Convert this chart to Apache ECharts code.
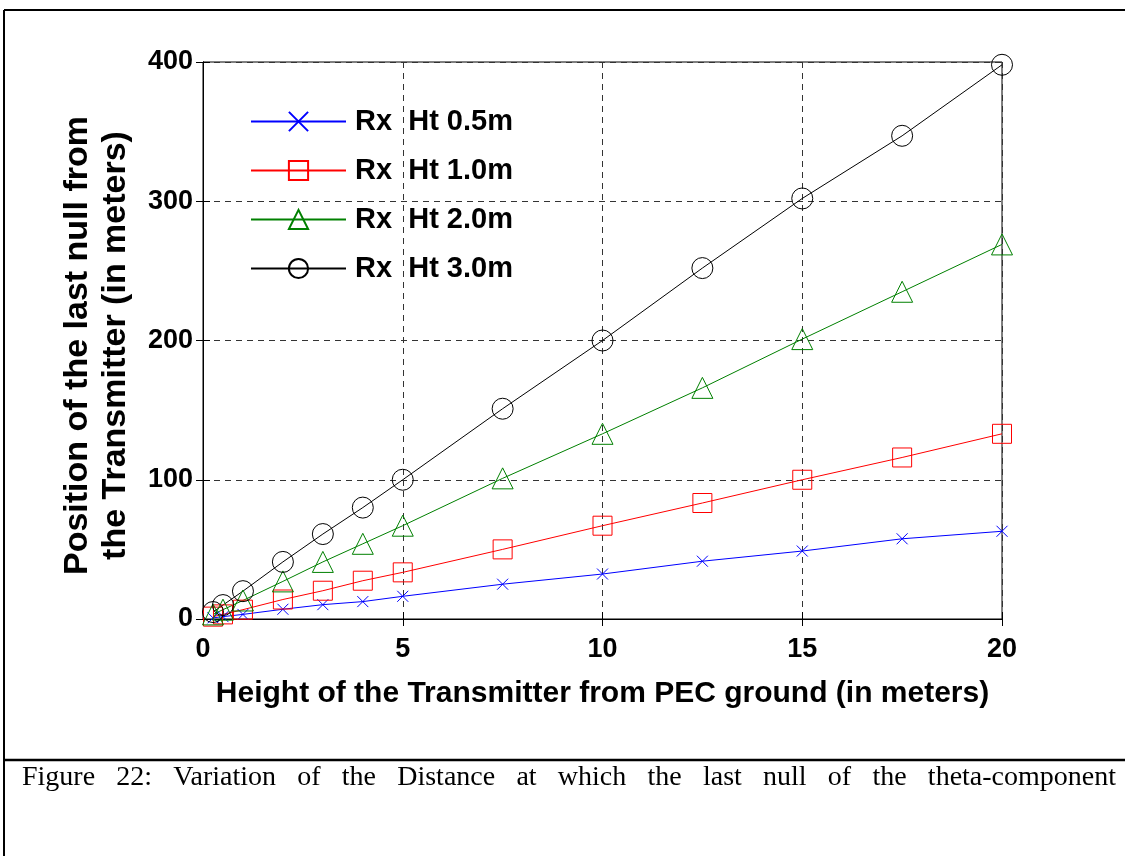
<!DOCTYPE html>
<html>
<head>
<meta charset="utf-8">
<script src="https://cdn.jsdelivr.net/npm/echarts@6/dist/echarts.min.js"></script>
<style>
  html, body { margin: 0; padding: 0; background: #fff; }
  #chart { width: 1125px; height: 856px; }
</style>
</head>
<body>
<div id="chart"></div>
<script>
// Transmitter height above the PEC ground (m)
const txHeight = [0.25, 0.5, 1, 2, 3, 4, 5, 7.5, 10, 12.5, 15, 17.5, 20];
// Position of the last null (m) for each receiver height
const rx05 = [0.8, 1.7, 3.3, 7, 10.3, 12.5, 16.3, 25, 32.3, 41.5, 48.8, 57.6, 63];
const rx10 = [1.7, 3.3, 6.7, 14, 20.3, 27.5, 33.5, 50, 67, 83.3, 100, 116, 133];
const rx20 = [3.3, 6.7, 13.3, 27, 41, 54, 67, 101, 133, 166, 201, 235, 269];
const rx30 = [5, 10, 20, 41, 61, 80, 100, 151, 200, 252, 302, 347, 398];
const seriesNames = ['Rx  Ht 0.5m', 'Rx  Ht 1.0m', 'Rx  Ht 2.0m', 'Rx  Ht 3.0m'];
const xTicks = [0, 5, 10, 15, 20];
const yTicks = [0, 100, 200, 300, 400];
const caption = 'Figure 22: Variation of the Distance at which the last null of the theta-component';

const sans = '"Liberation Sans", Arial, Helvetica, sans-serif';
const serif = '"Liberation Serif", "Times New Roman", serif';

function pairs(ys) { return txHeight.map((x, i) => [x, ys[i]]); }

function lineSeries(name, ys, color, symbol, size) {
  return {
    name: name,
    type: 'line',
    data: pairs(ys),
    symbol: symbol,
    symbolSize: size,
    showAllSymbol: true,
    clip: false,
    silent: true,
    lineStyle: { color: color, width: 1 },
    itemStyle: { color: 'transparent', borderColor: color, borderWidth: 1 },
    emphasis: { disabled: true }
  };
}

// Caption laid out word by word so it fills the full justified line width
function captionWords(left, right, top, size) {
  const words = caption.split(' ');
  const ctx = document.createElement('canvas').getContext('2d');
  ctx.font = size + 'px ' + serif;
  const widths = words.map(w => ctx.measureText(w).width);
  const total = widths.reduce((a, b) => a + b, 0);
  const gap = (right - left - total) / (words.length - 1);
  let x = left;
  return words.map((w, i) => {
    const el = {
      type: 'text', x: x, y: top, silent: true,
      style: { text: w, font: size + 'px ' + serif, fill: '#000', verticalAlign: 'top' }
    };
    x += widths[i] + gap;
    return el;
  });
}

const chart = echarts.init(document.getElementById('chart'), null, { renderer: 'canvas' });

const tickLabelStyle = { color: '#000', fontFamily: sans, fontWeight: 'bold', fontSize: 27 };

chart.setOption({
  animation: false,
  backgroundColor: '#fff',
  grid: { left: 203, right: 123, top: 62, bottom: 237, show: true, borderColor: '#000', borderWidth: 1 },
  legend: {
    orient: 'vertical',
    left: 245,
    top: 102,
    itemWidth: 95,
    itemHeight: 24,
    itemGap: 20,
    selectedMode: false,
    textStyle: { color: '#000', fontFamily: sans, fontWeight: 'bold', fontSize: 29, lineHeight: 28, padding: [0, 0, 0, 4] },
    data: seriesNames
  },
  xAxis: [{
    type: 'value', min: xTicks[0], max: xTicks[xTicks.length - 1], interval: 5,
    name: 'Height of the Transmitter from PEC ground (in meters)',
    nameLocation: 'middle', nameGap: 60,
    nameTextStyle: { color: '#000', fontFamily: sans, fontWeight: 'bold', fontSize: 30 },
    axisLine: { show: true, lineStyle: { color: '#000', width: 1 } },
    axisTick: { show: true, inside: true, length: 7, lineStyle: { color: '#000' } },
    axisLabel: Object.assign({ margin: 17, formatter: v => String(v) }, tickLabelStyle),
    splitLine: { show: true, lineStyle: { color: '#333', type: [6, 5], width: 1 } }
  }, {
    type: 'value', position: 'top', min: xTicks[0], max: xTicks[xTicks.length - 1], interval: 5,
    axisLine: { show: true, lineStyle: { color: '#000' } },
    axisTick: { show: true, inside: true, length: 7, lineStyle: { color: '#000' } },
    axisLabel: { show: false }, splitLine: { show: false }
  }],
  yAxis: [{
    type: 'value', min: yTicks[0], max: yTicks[yTicks.length - 1], interval: 100,
    name: 'Position of the last null from\nthe Transmitter (in meters)',
    nameLocation: 'middle', nameGap: 68, nameRotate: 90,
    nameTextStyle: { color: '#000', fontFamily: sans, fontWeight: 'bold', fontSize: 34, lineHeight: 38, padding: [0, 10, 0, 0] },
    axisLine: { show: true, lineStyle: { color: '#000', width: 1 } },
    axisTick: { show: true, inside: true, length: 7, lineStyle: { color: '#000' } },
    axisLabel: Object.assign({ margin: 10 }, tickLabelStyle),
    splitLine: { show: true, lineStyle: { color: '#333', type: [6, 5], width: 1 } }
  }, {
    type: 'value', position: 'right', min: yTicks[0], max: yTicks[yTicks.length - 1], interval: 100,
    axisLine: { show: true, lineStyle: { color: '#000' } },
    axisTick: { show: true, inside: true, length: 7, lineStyle: { color: '#000' } },
    axisLabel: { show: false }, splitLine: { show: false }
  }],
  series: [
    lineSeries(seriesNames[0], rx05, '#0000ff', 'path://M0,0L10,10M0,10L10,0', 11),
    lineSeries(seriesNames[1], rx10, '#ff0000', 'rect', 19),
    lineSeries(seriesNames[2], rx20, '#008000', 'triangle', 21),
    lineSeries(seriesNames[3], rx30, '#000000', 'circle', 21)
  ],
  graphic: [
    // page frame around the figure and the caption rule
    { type: 'line', silent: true, shape: { x1: 4, y1: 10, x2: 1125, y2: 10 }, style: { stroke: '#000', lineWidth: 2 } },
    { type: 'line', silent: true, shape: { x1: 4, y1: 10, x2: 4, y2: 856 }, style: { stroke: '#000', lineWidth: 2 } },
    { type: 'line', silent: true, shape: { x1: 4, y1: 760, x2: 1125, y2: 760 }, style: { stroke: '#000', lineWidth: 2.5 } }
  ].concat(captionWords(22, 1116, 764, 28))
});
</script>
</body>
</html>
